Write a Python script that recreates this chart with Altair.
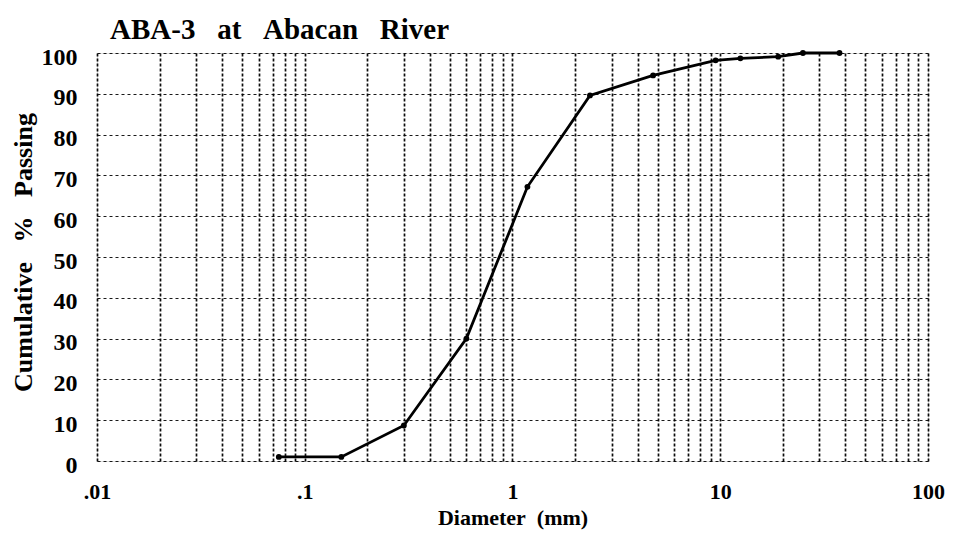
import altair as alt
import pandas as pd

# ---- data ----
diameter_mm = [0.075, 0.15, 0.3, 0.6, 1.18, 2.36, 4.75, 9.5, 12.5, 19.0, 25.0, 37.5]
cum_passing = [1.0, 1.0, 8.7, 30.0, 67.2, 89.6, 94.5, 98.2, 98.7, 99.1, 100.0, 100.0]

x_label_values = [0.01, 0.1, 1, 10, 100]
x_label_texts = [".01", ".1", "1", "10", "100"]
y_tick_values = [0, 10, 20, 30, 40, 50, 60, 70, 80, 90, 100]
grid_multipliers = [1, 2, 3, 4, 5, 6, 7, 8, 9]

x_grid_values = sorted(
    {round(m * d, 6) for d in x_label_values[:-1] for m in grid_multipliers} | {100}
)

label_expr = " : ".join(
    f"datum.value == {v} ? '{t}'" for v, t in zip(x_label_values, x_label_texts)
) + " : ''"

df = pd.DataFrame({"d": diameter_mm, "p": cum_passing})

FONT = "Liberation Serif"
NB = "\u00a0"

x_enc = alt.X(
    "d:Q",
    scale=alt.Scale(type="log", domain=[0.01, 100], nice=False),
    axis=alt.Axis(
        values=x_grid_values,
        labelExpr=label_expr,
        labelFlush=False,
        labelOverlap=False,
        ticks=False,
        domain=False,
        grid=True,
        gridColor="black",
        gridDash=[3, 2],
        gridWidth=1.7,
        gridOpacity=0.95,
        labelFont=FONT,
        labelFontSize=22,
        labelFontWeight="bold",
        labelColor="black",
        labelPadding=20,
        title=f"Diameter{NB}{NB}(mm)",
        titleFont=FONT,
        titleFontSize=22,
        titleFontWeight="bold",
        titleColor="black",
        titleY=56,
        titleBaseline="middle",
    ),
)

y_enc = alt.Y(
    "p:Q",
    scale=alt.Scale(domain=[0, 100], nice=False),
    axis=alt.Axis(
        values=y_tick_values,
        ticks=False,
        domain=False,
        grid=True,
        gridColor="black",
        gridDash=[3, 3],
        gridWidth=1.1,
        gridOpacity=0.9,
        labelFont=FONT,
        labelFontSize=24,
        labelFontWeight="bold",
        labelColor="black",
        labelPadding=20,
        labelOffset=4,
        title=f"Cumulative{NB}{NB}{NB}%{NB}{NB}{NB}Passing",
        titleFont=FONT,
        titleFontSize=26,
        titleFontWeight="bold",
        titleColor="black",
        titleAngle=-90,
        titleX=-74,
        titleY=199,
        titleBaseline="middle",
        titleAlign="center",
    ),
)

base = alt.Chart(df)
line = base.mark_line(color="black", strokeWidth=2.8).encode(x=x_enc, y=y_enc)
pts = base.mark_circle(color="black", size=34, opacity=1).encode(x="d:Q", y="p:Q")

chart = (
    alt.layer(line, pts)
    .properties(
        width=831,
        height=408,
        padding={"left": 89, "top": 45, "right": 19, "bottom": 70},
        autosize=alt.AutoSizeParams(type="none"),
        title=alt.TitleParams(
            text=f"ABA-3{NB}{NB}{NB}at{NB}{NB}{NB}Abacan{NB}{NB}{NB}River",
            anchor="start",
            frame="group",
            font=FONT,
            fontSize=29,
            fontWeight="bold",
            color="black",
            offset=12,
            dx=13,
            dy=12,
        ),
    )
    .configure_view(stroke="black", strokeWidth=2.5)
    .configure(background="white")
)

chart.save("out.html", embed_options={"renderer": "svg", "actions": False})
